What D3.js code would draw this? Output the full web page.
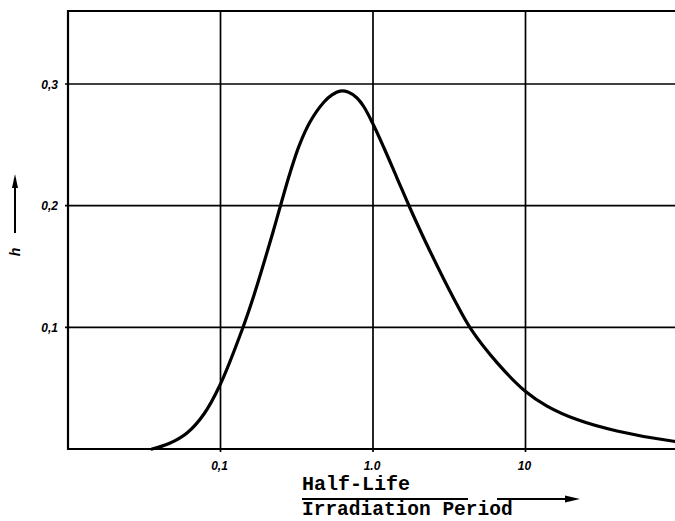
<!DOCTYPE html>
<html>
<head>
<meta charset="utf-8">
<script src="https://cdn.jsdelivr.net/npm/d3@7"></script>
<style>
  html, body { margin: 0; padding: 0; background: #fff; }
  svg { display: block; }
</style>
</head>
<body>
<svg id="chart" width="675" height="521"></svg>
<script>
// Ratio Half-Life / Irradiation Period (log axis)
const ratio = [0.03555, 0.04596, 0.06031, 0.07793, 0.09925, 0.1384, 0.1659, 0.2210, 0.2492, 0.2856, 0.3271, 0.3862, 0.4773, 0.5385, 0.6075, 0.6855, 0.7852, 0.8729, 1.0, 1.181, 1.437, 1.748, 2.261, 3.397, 4.391, 6.504, 9.92, 13.84, 21.76, 39.8, 91.3, 100];
// h values
const hValues = [0.0, 0.0045, 0.0132, 0.0288, 0.0526, 0.0978, 0.1266, 0.1784, 0.2014, 0.2268, 0.2490, 0.2688, 0.2852, 0.2910, 0.2942, 0.2934, 0.2885, 0.2811, 0.2671, 0.2474, 0.2227, 0.1981, 0.1677, 0.1233, 0.0985, 0.0710, 0.0477, 0.0353, 0.0242, 0.0148, 0.0066, 0.0062];
const xTickValues = [0.1, 1, 10];
const xTickLabels = ["0,1", "1.0", "10"];
const yTickValues = [0.1, 0.2, 0.3];
const yTickLabels = ["0,1", "0,2", "0,3"];
const xDomain = [0.01, 100];
const yDomain = [0, 0.36];

const svg = d3.select("#chart");
const pLeft = 68, pRight = 678, pTop = 11, pBottom = 449;

const x = d3.scaleLog().domain(xDomain).range([pLeft, pRight]);
const y = d3.scaleLinear().domain(yDomain).range([pBottom, pTop]);

// grid lines
const grid = svg.append("g");
grid.selectAll("line.v").data(xTickValues).enter().append("line").attr("class", "v")
  .attr("x1", d => x(d)).attr("x2", d => x(d))
  .attr("y1", pTop).attr("y2", pBottom + 3)
  .attr("stroke", "#000").attr("stroke-width", 1.7);
grid.selectAll("line.h").data(yTickValues).enter().append("line").attr("class", "h")
  .attr("x1", pLeft - 3).attr("x2", pRight)
  .attr("y1", d => y(d)).attr("y2", d => y(d))
  .attr("stroke", "#000").attr("stroke-width", 1.7);

// frame (left, top, bottom)
svg.append("path")
  .attr("d", `M${pRight},${pTop}H${pLeft}V${pBottom}H${pRight}`)
  .attr("fill", "none").attr("stroke", "#000").attr("stroke-width", 2.2);

// tick labels
const tickFont = "'Liberation Sans', Arial, sans-serif";
svg.append("g").selectAll("text").data(yTickValues).enter().append("text")
  .attr("x", 58).attr("y", d => y(d) + 4.5)
  .attr("text-anchor", "end")
  .attr("font-family", tickFont).attr("font-style", "italic").attr("font-weight", "bold")
  .attr("font-size", 12)
  .text((d, i) => yTickLabels[i]);
svg.append("g").selectAll("text").data(xTickValues).enter().append("text")
  .attr("x", d => x(d) - 1).attr("y", 470)
  .attr("text-anchor", "middle")
  .attr("font-family", tickFont).attr("font-style", "italic").attr("font-weight", "bold")
  .attr("font-size", 12)
  .text((d, i) => xTickLabels[i]);

// curve
const pts = ratio.map((r, i) => [r, hValues[i]]);
svg.append("path")
  .datum(pts)
  .attr("fill", "none").attr("stroke", "#000").attr("stroke-width", 3.2)
  .attr("stroke-linecap", "round").attr("stroke-linejoin", "round")
  .attr("d", d3.line().x(d => x(d[0])).y(d => y(d[1])).curve(d3.curveCatmullRom.alpha(0.5)));

// y axis label with arrow
svg.append("text")
  .attr("transform", "translate(20,252) rotate(-90)")
  .attr("text-anchor", "middle")
  .attr("font-family", tickFont).attr("font-style", "italic").attr("font-weight", "bold")
  .attr("font-size", 14)
  .text("h");
svg.append("line").attr("x1", 15).attr("x2", 15).attr("y1", 233).attr("y2", 183)
  .attr("stroke", "#000").attr("stroke-width", 2);
svg.append("path").attr("d", "M15,174 L12,188 L18,188 Z").attr("fill", "#000");

// x axis label (fraction)
const monoFont = "'Liberation Mono', 'DejaVu Sans Mono', monospace";
svg.append("text").attr("x", 302).attr("y", 490)
  .attr("font-family", monoFont).attr("font-weight", "bold").attr("font-size", 20)
  .text("Half-Life");
svg.append("line").attr("x1", 302).attr("x2", 468).attr("y1", 499).attr("y2", 499)
  .attr("stroke", "#000").attr("stroke-width", 2);
svg.append("text").attr("x", 302).attr("y", 515)
  .attr("font-family", monoFont).attr("font-weight", "bold").attr("font-size", 19.5)
  .text("Irradiation Period");
svg.append("line").attr("x1", 497).attr("x2", 568).attr("y1", 499).attr("y2", 499)
  .attr("stroke", "#000").attr("stroke-width", 2);
svg.append("path").attr("d", "M580,499 L565,495.5 L565,502.5 Z").attr("fill", "#000");
</script>
</body>
</html>
